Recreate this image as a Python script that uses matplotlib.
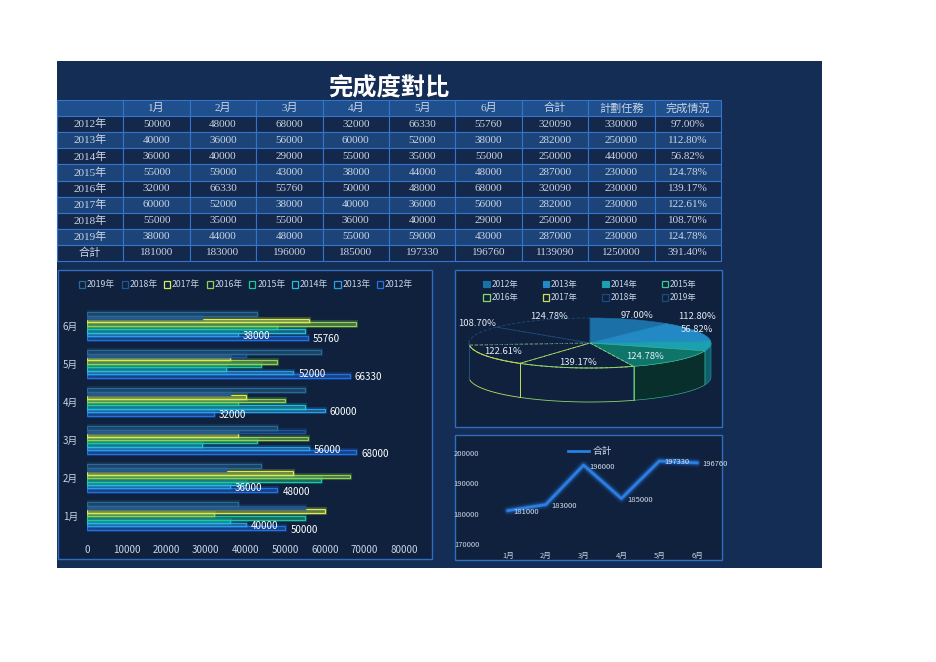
import matplotlib
matplotlib.use('Agg')
import matplotlib.pyplot as plt
from matplotlib.patches import Rectangle, Patch
from matplotlib.lines import Line2D
import numpy as np

plt.rcParams['font.family'] = ['Noto Sans CJK TC', 'DejaVu Sans']

# ---------------- data ----------------
years = ['2012年', '2013年', '2014年', '2015年', '2016年', '2017年', '2018年', '2019年']
months = ['1月', '2月', '3月', '4月', '5月', '6月']
s2012 = [50000, 48000, 68000, 32000, 66330, 55760]
s2013 = [40000, 36000, 56000, 60000, 52000, 38000]
s2014 = [36000, 40000, 29000, 55000, 35000, 55000]
s2015 = [55000, 59000, 43000, 38000, 44000, 48000]
s2016 = [32000, 66330, 55760, 50000, 48000, 68000]
s2017 = [60000, 52000, 38000, 40000, 36000, 56000]
s2018 = [55000, 35000, 55000, 36000, 40000, 29000]
s2019 = [38000, 44000, 48000, 55000, 59000, 43000]
row_total = [320090, 282000, 250000, 287000, 320090, 282000, 250000, 287000]
plan = [330000, 250000, 440000, 230000, 230000, 230000, 230000, 230000]
rate = [97.00, 112.80, 56.82, 124.78, 139.17, 122.61, 108.70, 124.78]
month_total = [181000, 183000, 196000, 185000, 197330, 196760]
grand_total = 1139090
plan_total = 1250000
rate_total = 391.40
header = ['', '1月', '2月', '3月', '4月', '5月', '6月', '合計', '計劃任務', '完成情況']
total_label = '合計'
line_ticks = [170000, 180000, 190000, 200000]
bar_ticks = [0, 10000, 20000, 30000, 40000, 50000, 60000, 70000, 80000]

series = [s2012, s2013, s2014, s2015, s2016, s2017, s2018, s2019]

# ---------------- figure ----------------
W, H = 936, 662
fig = plt.figure(figsize=(W / 100, H / 100), dpi=100)
fig.patch.set_facecolor('white')


def px_axes(x0, y0, x1, y1):
    return fig.add_axes([x0 / W, 1 - y1 / H, (x1 - x0) / W, (y1 - y0) / H])


def px_rect(x0, y0, x1, y1, fc, ec='none', lw=0, z=-10):
    r = Rectangle((x0 / W, 1 - y1 / H), (x1 - x0) / W, (y1 - y0) / H,
                  transform=fig.transFigure, facecolor=fc, edgecolor=ec,
                  linewidth=lw, zorder=z)
    fig.add_artist(r)


TXT = '#c9d4e6'
px_rect(57, 61, 822, 568, '#142d54', z=-20)
px_rect(58, 270, 432, 559, '#0f213d', '#2e6dc0', 1.0, z=-15)
px_rect(455, 270, 722, 427, '#0f213d', '#2e6dc0', 1.0, z=-15)
px_rect(455, 435, 722, 560, '#0f213d', '#2e6dc0', 1.0, z=-15)

fig.text(389 / W, 1 - 88 / H, '完成度對比', ha='center', va='center',
         fontsize=17.5, color='white', fontweight='bold')

# ---------------- table ----------------
cell_text = [header]
for i, y in enumerate(years):
    cell_text.append([y] + [str(v) for v in series[i]] +
                     [str(row_total[i]), str(plan[i]), f'{rate[i]:.2f}%'])
cell_text.append([total_label] + [str(v) for v in month_total] +
                 [str(grand_total), str(plan_total), f'{rate_total:.2f}%'])

axt = px_axes(57, 100, 721, 261)
axt.axis('off')
tbl = axt.table(cellText=cell_text, bbox=[0, 0, 1, 1], cellLoc='center')
tbl.auto_set_font_size(False)
tbl.set_fontsize(8)
for (r, c), cell in tbl.get_celld().items():
    if r == 0:
        fc = '#1f4f8c'
    elif r % 2 == 1:
        fc = '#13284a'
    else:
        fc = '#1d4478'
    cell.set_facecolor(fc)
    cell.set_edgecolor('#3474cc')
    cell.set_linewidth(0.8)
    t = cell.get_text()
    t.set_color(TXT)
    t.set_fontfamily(['Liberation Serif', 'Noto Sans CJK TC'])

# ---------------- bar chart ----------------
bar_colors = ['#2272e6', '#2a9ee8', '#20c0d8', '#1ec89c', '#8fd44e', '#d6ec50', '#1d569e', '#2a6a98']
axb = px_axes(87, 303, 404, 539)
axb.set_facecolor('none')
h = 0.09
pos = np.arange(len(months))
for i, s in enumerate(series):
    yy = pos + (i - 3.5) * h
    c = bar_colors[i]
    axb.barh(yy, s, height=h, facecolor='none', edgecolor=c, linewidth=3.0, alpha=0.22)
    axb.barh(yy, s, height=h, facecolor=matplotlib.colors.to_rgba(c, 0.28),
             edgecolor=c, linewidth=0.9)
    if i < 2:
        for yv, v in zip(yy, s):
            axb.text(v + 1300, yv - 0.04, str(v), va='center', ha='left',
                     fontsize=7, color='white')
axb.set_xlim(0, 80000)
axb.set_ylim(-0.6, 5.6)
axb.set_xticks(bar_ticks)
axb.set_xticklabels([str(t) for t in bar_ticks])
axb.set_yticks(pos)
axb.set_yticklabels(months)
axb.tick_params(length=0, colors=TXT, labelsize=7, pad=4)
axb.tick_params(axis='y', pad=6.5)
for sp in axb.spines.values():
    sp.set_visible(False)

hb = [Patch(facecolor='none', edgecolor=bar_colors[i], linewidth=0.9) for i in range(7, -1, -1)]
lb = [years[i] for i in range(7, -1, -1)]
fig.legend(hb, lb, loc='center', bbox_to_anchor=(246 / W, 1 - 285 / H), ncol=8,
           frameon=False, fontsize=6.3, labelcolor=TXT, handlelength=0.7,
           handleheight=0.7, handletextpad=0.2, columnspacing=0.75)

# ---------------- 3D pie ----------------
top_colors = ['#1b70a8', '#2389c4', '#1c9fb0', '#0f756b', 'none', 'none', 'none', 'none']
edge_colors = ['#1b70a8', '#2389c4', '#1c9fb0', '#3fc79a', '#8fd46a', '#c8e05a', '#1c4a80', '#1b4d78']
side_colors = ['#10466a', '#14587e', '#0e5e6c', '#092f2c']
a_px, b_px, cx_px, cy_px, d_px = 121, 25, 590, 343, 34
axp = px_axes(455, 270, 722, 427)
axp.axis('off')
wedges, _ = axp.pie(rate, startangle=90, counterclock=False, radius=1)
for i, w in enumerate(wedges):
    w.set_facecolor(top_colors[i])
    w.set_edgecolor(edge_colors[i])
    w.set_linewidth(0.6 if i >= 4 else 0.4)
    if i >= 4:
        w.set_linestyle((0, (4, 2)))
    w.set_zorder(3)
axp.set_aspect('auto')
axp.set_xlim((455 - cx_px) / a_px, (722 - cx_px) / a_px)
axp.set_ylim(-(427 - cy_px) / b_px, (cy_px - 270) / b_px)
d = d_px / b_px
bounds = np.concatenate([[0], np.cumsum(rate) / np.sum(rate) * 360])
for i in range(len(rate)):
    lo, hi = max(bounds[i], 90), min(bounds[i + 1], 270)
    if hi <= lo:
        continue
    ts = np.radians(np.linspace(lo, hi, 60))
    xs, ys = np.sin(ts), np.cos(ts)
    if i < 4:
        axp.fill(np.concatenate([xs, xs[::-1]]), np.concatenate([ys, ys[::-1] - d]),
                 facecolor=side_colors[i], edgecolor=edge_colors[i], linewidth=0.4, zorder=2)
    else:
        axp.plot(xs, ys, color=edge_colors[i], lw=0.7, zorder=4)
        axp.plot(xs, ys - d, color=edge_colors[i], lw=0.6, zorder=2)
        for t in (ts[0], ts[-1]):
            axp.plot([np.sin(t), np.sin(t)], [np.cos(t), np.cos(t) - d],
                     color=edge_colors[i], lw=0.6, zorder=2)

lab_r = [1.15, 1.0, 0.89, 0.63, 0.8, 0.83, 0.98, 0.8]
lab_dy = [0.0, 0.6, 0.64, -0.1, 0.0, 0.08, 0.47, 0.32]
for i, w in enumerate(wedges):
    phi = np.radians((w.theta1 + w.theta2) / 2)
    axp.text(lab_r[i] * np.cos(phi), lab_r[i] * np.sin(phi) + lab_dy[i],
             f'{rate[i]:.2f}%', ha='center', va='center', fontsize=6.8,
             color='#e6ecf5', zorder=5)

hp = []
for i in range(8):
    if i < 3:
        hp.append(Patch(facecolor=top_colors[i], edgecolor=edge_colors[i], linewidth=0.8))
    else:
        hp.append(Patch(facecolor='none', edgecolor=edge_colors[i], linewidth=0.9))
order = [0, 4, 1, 5, 2, 6, 3, 7]
fig.legend([hp[k] for k in order], [years[k] for k in order], loc='center',
           bbox_to_anchor=(590 / W, 1 - 291 / H), ncol=4, frameon=False,
           fontsize=6, labelcolor=TXT, handlelength=0.8, handleheight=0.8,
           handletextpad=0.2, columnspacing=2.9, labelspacing=0.55)

# ---------------- line chart ----------------
axl = px_axes(489, 453, 716, 544)
axl.set_facecolor('none')
xl = np.arange(len(months))
for lw, al in [(7, 0.08), (5, 0.15), (3.5, 0.25)]:
    axl.plot(xl, month_total, color='#2f86ff', lw=lw, alpha=al, solid_capstyle='round')
axl.plot(xl, month_total, color='#2a7fe0', lw=2)
for x, v in zip(xl, month_total):
    axl.annotate(str(v), (x, v), xytext=(4, -1), textcoords='offset points',
                 ha='left', va='center', fontsize=5.5, color='#d6deec')
axl.set_xlim(-0.5, 5.5)
axl.set_ylim(170000, 200000)
axl.set_yticks(line_ticks)
axl.set_yticklabels([str(t) for t in line_ticks])
axl.set_xticks(xl)
axl.set_xticklabels(months)
axl.tick_params(length=0, colors=TXT, labelsize=5.5)
axl.tick_params(axis='x', pad=6)
axl.tick_params(axis='y', pad=7)
for sp in axl.spines.values():
    sp.set_visible(False)
fig.legend([Line2D([0], [0], color='#2a7fe0', lw=2)], [total_label], loc='center',
           bbox_to_anchor=(590 / W, 1 - 451 / H), frameon=False, fontsize=7,
           labelcolor=TXT, handlelength=2.2, handletextpad=0.3)

fig.savefig('out.png', dpi=100, facecolor='white')
